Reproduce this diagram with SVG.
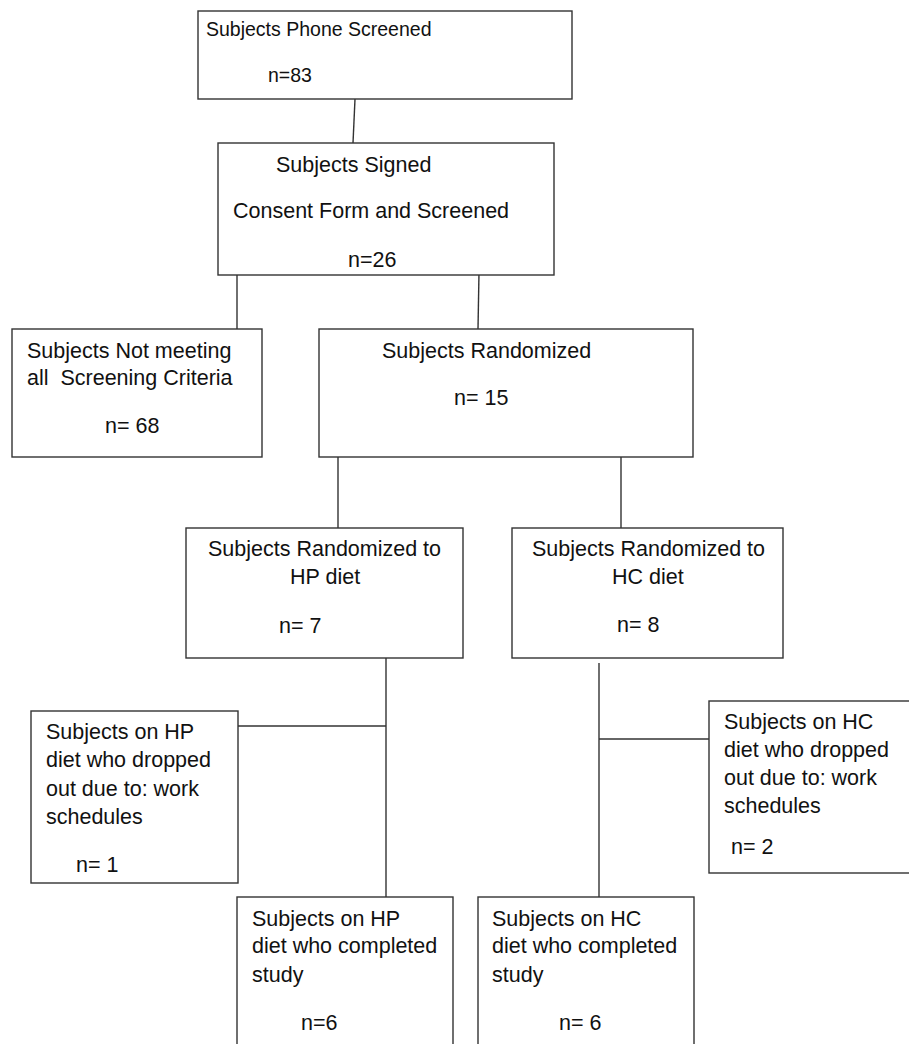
<svg xmlns="http://www.w3.org/2000/svg" width="909" height="1044" viewBox="0 0 909 1044">
<style>
.box{fill:#fff;stroke:#333;stroke-width:1.4}
.ln{fill:none;stroke:#333;stroke-width:1.4}
text{font-family:"Liberation Sans",Arial,sans-serif;font-size:21.5px;fill:#111}
.sm{font-size:19.5px}
</style>
<rect width="909" height="1044" fill="#fff"/>
<g id="connectors">
<path class="ln" d="M355 99 L353 143"/>
<path class="ln" d="M237 272 L237 329"/>
<path class="ln" d="M479 272 L478 329"/>
<path class="ln" d="M338 457 L338 528"/>
<path class="ln" d="M621 457 L621 528"/>
<path class="ln" d="M386 658 L386 897"/>
<path class="ln" d="M238 726 L386 726"/>
<path class="ln" d="M599 663 L599 897"/>
<path class="ln" d="M599 739 L709 739"/>
</g>
<g id="phone">
<rect class="box" x="198" y="11" width="374" height="88"/>
<text class="sm" x="206" y="36">Subjects Phone Screened</text>
<text class="sm" x="268" y="82">n=83</text>
</g>
<g id="signed">
<rect class="box" x="218" y="143" width="336" height="132"/>
<text x="276" y="172">Subjects Signed</text>
<text x="233" y="218">Consent Form and Screened</text>
<text x="348" y="267">n=26</text>
</g>
<g id="notmeeting">
<rect class="box" x="12" y="329" width="250" height="128"/>
<text x="27" y="358">Subjects Not meeting</text>
<text x="27" y="385" xml:space="preserve">all  Screening Criteria</text>
<text x="105" y="433">n= 68</text>
</g>
<g id="randomized">
<rect class="box" x="319" y="329" width="374" height="128"/>
<text x="382" y="358">Subjects Randomized</text>
<text x="454" y="405">n= 15</text>
</g>
<g id="hp">
<rect class="box" x="186" y="528" width="277" height="130"/>
<text x="208" y="556">Subjects Randomized to</text>
<text x="290" y="584">HP diet</text>
<text x="279" y="633">n= 7</text>
</g>
<g id="hc">
<rect class="box" x="512" y="528" width="271" height="130"/>
<text x="532" y="556">Subjects Randomized to</text>
<text x="612" y="584">HC diet</text>
<text x="617" y="632">n= 8</text>
</g>
<g id="hpdrop">
<rect class="box" x="31" y="711" width="207" height="172"/>
<text x="46" y="739">Subjects on HP</text>
<text x="46" y="767">diet who dropped</text>
<text x="46" y="796">out due to: work</text>
<text x="46" y="824">schedules</text>
<text x="76" y="872">n= 1</text>
</g>
<g id="hcdrop">
<rect class="box" x="709" y="701" width="210" height="172"/>
<text x="724" y="729">Subjects on HC</text>
<text x="724" y="757">diet who dropped</text>
<text x="724" y="785">out due to: work</text>
<text x="724" y="813">schedules</text>
<text x="731" y="854">n= 2</text>
</g>
<g id="hpdone">
<rect class="box" x="237" y="897" width="216" height="160"/>
<text x="252" y="926">Subjects on HP</text>
<text x="252" y="953">diet who completed</text>
<text x="252" y="982">study</text>
<text x="301" y="1030">n=6</text>
</g>
<g id="hcdone">
<rect class="box" x="478" y="897" width="216" height="160"/>
<text x="492" y="926">Subjects on HC</text>
<text x="492" y="953">diet who completed</text>
<text x="492" y="982">study</text>
<text x="559" y="1030">n= 6</text>
</g>
</svg>
